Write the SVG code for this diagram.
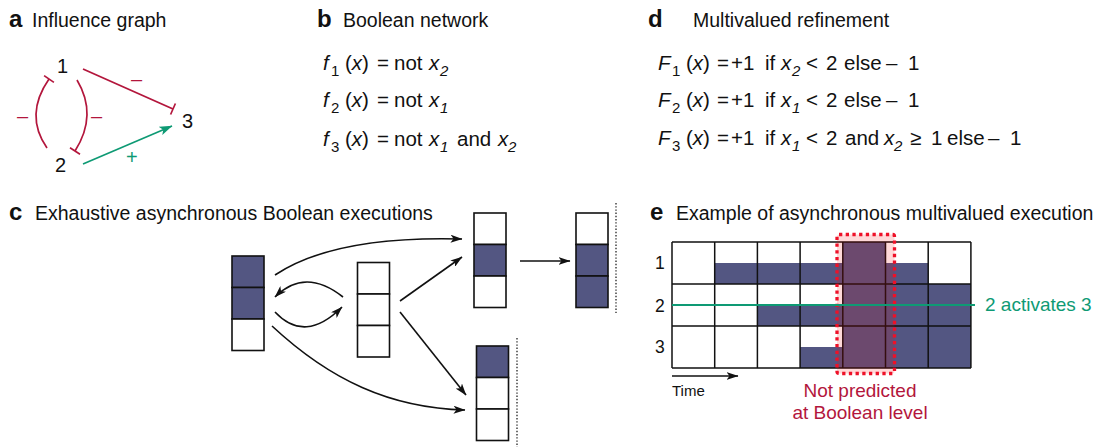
<svg xmlns="http://www.w3.org/2000/svg" width="1101" height="447" viewBox="0 0 1101 447">
<style>
text{font-family:"Liberation Sans",Arial,Helvetica,sans-serif;fill:#111}
.hd{font-size:24px;font-weight:bold}
.tt{font-size:19.5px}
.eq{font-size:20.5px}
.sb{font-size:15px}
.it{font-style:italic}
.nd{font-size:20px}
.red{fill:#b3163c}
.grn{fill:#0e9a74}
.inh{fill:none;stroke:#b3163c;stroke-width:1.7}
.act{fill:none;stroke:#0e9a74;stroke-width:1.7}
.conn{fill:none;stroke:#111;stroke-width:1.6}
.cell{fill:#fff;stroke:#111;stroke-width:1.6}
.on{fill:#535682;stroke:#111;stroke-width:1.6}
.nv{fill:#535682}
.gl{fill:none;stroke:#111;stroke-width:1.5}
.dot{fill:none;stroke:#333;stroke-width:1.4;stroke-dasharray:1.4 1.8}
</style>
<defs>
<marker id="ah" viewBox="0 0 12 8" refX="11.5" refY="4" markerWidth="12" markerHeight="8" markerUnits="userSpaceOnUse" orient="auto"><path d="M0,0 L12,4 L0,8 L3,4 z" fill="#111"/></marker>
<marker id="ahg" viewBox="0 0 13 9" refX="12.5" refY="4.5" markerWidth="13" markerHeight="9" markerUnits="userSpaceOnUse" orient="auto"><path d="M0,0 L13,4.5 L0,9 L3,4.5 z" fill="#0e9a74"/></marker>
</defs>

<!-- Panel headers -->
<g id="titles">
<text class="hd" x="9" y="27">a</text><text class="tt" x="32" y="27">Influence graph</text>
<text class="hd" x="317" y="27">b</text><text class="tt" x="343" y="27">Boolean network</text>
<text class="hd" x="648" y="27">d</text><text class="tt" x="693" y="27">Multivalued refinement</text>
<text class="hd" x="9" y="220">c</text><text class="tt" x="35" y="220">Exhaustive asynchronous Boolean executions</text>
<text class="hd" x="650" y="220">e</text><text class="tt" x="676" y="220">Example of asynchronous multivalued execution</text>
</g>

<!-- Panel a -->
<g id="a-connectors">
<path class="inh" d="M83,69 L173,109"/><path class="inh" d="M170.6,114.5 L175.4,103.5"/>
<path class="inh" d="M47,148 Q24,115 49,79"/><path class="inh" d="M44.1,75.6 L53.9,82.4"/>
<path class="inh" d="M77,80 Q98,115 75,151"/><path class="inh" d="M70,147.8 L80,154.2"/>
<path class="act" d="M83,164 L172,126" marker-end="url(#ahg)"/>
<text class="nd red" x="131" y="86">–</text>
<text class="nd red" x="17" y="123">–</text>
<text class="nd red" x="91" y="123">–</text>
<text class="grn" style="font-size:20px" x="126" y="164">+</text>
</g>
<g id="node-1"><text class="nd" x="57" y="73">1</text></g>
<g id="node-2"><text class="nd" x="55" y="172">2</text></g>
<g id="node-3"><text class="nd" x="182" y="128">3</text></g>

<!-- Panel b -->
<g id="b-equations">
<text class="eq"><tspan class="it" x="323" y="70">f</tspan><tspan class="sb" x="331" y="76">1</tspan><tspan x="345" y="70">(</tspan><tspan class="it">x</tspan><tspan>)</tspan><tspan x="377" y="70">=</tspan><tspan x="394" y="70">not</tspan><tspan class="it" x="429" y="70">x</tspan><tspan class="sb it" x="440" y="76">2</tspan></text>
<text class="eq"><tspan class="it" x="323" y="107">f</tspan><tspan class="sb" x="331" y="113">2</tspan><tspan x="345" y="107">(</tspan><tspan class="it">x</tspan><tspan>)</tspan><tspan x="377" y="107">=</tspan><tspan x="394" y="107">not</tspan><tspan class="it" x="429" y="107">x</tspan><tspan class="sb it" x="440" y="113">1</tspan></text>
<text class="eq"><tspan class="it" x="323" y="146">f</tspan><tspan class="sb" x="331" y="152">3</tspan><tspan x="345" y="146">(</tspan><tspan class="it">x</tspan><tspan>)</tspan><tspan x="377" y="146">=</tspan><tspan x="394" y="146">not</tspan><tspan class="it" x="429" y="146">x</tspan><tspan class="sb it" x="440" y="152">1</tspan><tspan x="457" y="146">and</tspan><tspan class="it" x="498" y="146">x</tspan><tspan class="sb it" x="508" y="152">2</tspan></text>
</g>

<!-- Panel d -->
<g id="d-equations">
<text class="eq"><tspan class="it" x="658" y="70">F</tspan><tspan class="sb" x="672" y="76">1</tspan><tspan x="686" y="70">(</tspan><tspan class="it">x</tspan><tspan>)</tspan><tspan x="717" y="70">=</tspan><tspan x="731" y="70">+1</tspan><tspan x="765" y="70">if</tspan><tspan class="it" x="781" y="70">x</tspan><tspan class="sb it" x="792" y="76">2</tspan><tspan x="806" y="70">&lt;</tspan><tspan x="826" y="70">2</tspan><tspan x="844" y="70">else</tspan><tspan x="886" y="70">–</tspan><tspan x="908" y="70">1</tspan></text>
<text class="eq"><tspan class="it" x="658" y="107">F</tspan><tspan class="sb" x="672" y="113">2</tspan><tspan x="686" y="107">(</tspan><tspan class="it">x</tspan><tspan>)</tspan><tspan x="717" y="107">=</tspan><tspan x="731" y="107">+1</tspan><tspan x="765" y="107">if</tspan><tspan class="it" x="781" y="107">x</tspan><tspan class="sb it" x="792" y="113">1</tspan><tspan x="806" y="107">&lt;</tspan><tspan x="826" y="107">2</tspan><tspan x="844" y="107">else</tspan><tspan x="886" y="107">–</tspan><tspan x="908" y="107">1</tspan></text>
<text class="eq"><tspan class="it" x="658" y="145">F</tspan><tspan class="sb" x="672" y="151">3</tspan><tspan x="686" y="145">(</tspan><tspan class="it">x</tspan><tspan>)</tspan><tspan x="717" y="145">=</tspan><tspan x="731" y="145">+1</tspan><tspan x="765" y="145">if</tspan><tspan class="it" x="781" y="145">x</tspan><tspan class="sb it" x="792" y="151">1</tspan><tspan x="806" y="145">&lt;</tspan><tspan x="826" y="145">2</tspan><tspan x="845" y="145">and</tspan><tspan class="it" x="884" y="145">x</tspan><tspan class="sb it" x="894" y="151">2</tspan><tspan x="910" y="145">≥</tspan><tspan x="931" y="145">1</tspan><tspan x="947" y="145">else</tspan><tspan x="988" y="145">–</tspan><tspan x="1010" y="145">1</tspan></text>
</g>

<!-- Panel c -->
<g id="c-connectors">
<path class="conn" d="M275,275 C320,245 390,237 462,239" marker-end="url(#ah)"/>
<path class="conn" d="M343,297 Q305,267 275,297" marker-end="url(#ah)"/>
<path class="conn" d="M275,312 Q305,344 342,307" marker-end="url(#ah)"/>
<path class="conn" d="M400,301 L462,257" marker-end="url(#ah)"/>
<path class="conn" d="M400,312 L466,395" marker-end="url(#ah)"/>
<path class="conn" d="M272,326 C330,380 390,408 465,410" marker-end="url(#ah)"/>
<path class="conn" d="M520,261 L570,261" marker-end="url(#ah)"/>
<path class="dot" d="M616,203 L616,313"/>
<path class="dot" d="M517,338 L517,447"/>
</g>
<g id="state-110"><rect class="on" x="232" y="256" width="32" height="31.5"/><rect class="on" x="232" y="287.5" width="32" height="31.5"/><rect class="cell" x="232" y="319" width="32" height="31.5"/></g>
<g id="state-000"><rect class="cell" x="357.5" y="262.5" width="32" height="31.5"/><rect class="cell" x="357.5" y="294" width="32" height="31.5"/><rect class="cell" x="357.5" y="325.5" width="32" height="31.5"/></g>
<g id="state-010"><rect class="cell" x="474" y="213" width="32" height="31.5"/><rect class="on" x="474" y="244.5" width="32" height="31.5"/><rect class="cell" x="474" y="276" width="32" height="31.5"/></g>
<g id="state-100"><rect class="on" x="476.5" y="346" width="32" height="31.5"/><rect class="cell" x="476.5" y="377.5" width="32" height="31.5"/><rect class="cell" x="476.5" y="409" width="32" height="31.5"/></g>
<g id="state-011"><rect class="cell" x="576" y="213" width="32" height="31.5"/><rect class="on" x="576" y="244.5" width="32" height="31.5"/><rect class="on" x="576" y="276" width="32" height="31.5"/></g>

<!-- Panel e -->
<g id="e-grid">
<rect x="672" y="242" width="299" height="126" fill="#fff"/>
<rect class="nv" x="714.7" y="263" width="128.1" height="21"/>
<rect class="nv" x="885.5" y="263" width="42.7" height="21"/>
<rect class="nv" x="757.4" y="305" width="85.4" height="21"/>
<rect class="nv" x="800.1" y="347" width="42.7" height="21"/>
<rect class="nv" x="842.8" y="242" width="42.7" height="126"/>
<rect class="nv" x="885.5" y="284" width="85.4" height="84"/>
<path class="gl" d="M672,242 H971 M672,284 H971 M672,326 H971 M672,368 H971 M672,242 V368 M714.7,242 V368 M757.4,242 V368 M800.1,242 V368 M842.8,242 V368 M885.5,242 V368 M928.2,242 V368 M970.9,242 V368"/>
<rect x="837" y="234.5" width="57.5" height="139" rx="2" fill="#ff0000" fill-opacity="0.15" stroke="#ee1128" stroke-width="3.3" stroke-dasharray="3.3 3.4"/>
<path d="M672,305 H975" stroke="#0e9a74" stroke-width="2.2" fill="none"/>
<text class="grn" style="font-size:19px" x="985" y="311">2 activates 3</text>
<text style="font-size:17.5px" x="655" y="269">1</text>
<text style="font-size:17.5px" x="655" y="312">2</text>
<text style="font-size:17.5px" x="655" y="353">3</text>
<path class="conn" d="M672,376 H738" marker-end="url(#ah)"/>
<text style="font-size:15px" x="672" y="396">Time</text>
<text class="red" style="font-size:19px" text-anchor="middle"><tspan x="860" y="397">Not predicted</tspan><tspan x="860" y="419">at Boolean level</tspan></text>
</g>
</svg>
